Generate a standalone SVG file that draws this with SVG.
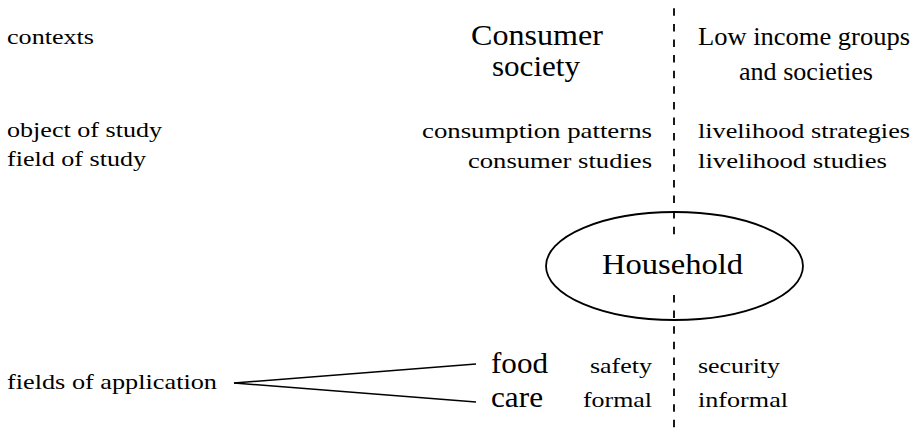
<svg xmlns="http://www.w3.org/2000/svg" width="918" height="432" viewBox="0 0 918 432">
<style>
text{fill:#000}
.s{font-size:21px}
.m{font-size:25px}
.l{font-size:30px}
.dash{stroke:#000;stroke-width:1.8;stroke-dasharray:7.5 8.1;fill:none}
.ln{stroke:#000;stroke-width:1.5;fill:none}
</style>
<rect width="918" height="432" fill="#fff"/>
<g id="connectors">
<line class="dash" x1="674" y1="8.3" x2="674" y2="240"/>
<line class="dash" x1="674" y1="295" x2="674" y2="432"/>
<line class="ln" x1="234" y1="383" x2="476" y2="364"/>
<line class="ln" x1="234" y1="383" x2="476" y2="402"/>
</g>
<g font-family="Liberation Serif, serif">
<g id="row-labels">
<text class="s" x="7" y="44" textLength="87" lengthAdjust="spacingAndGlyphs">contexts</text>
<text class="s" x="7" y="137" textLength="155" lengthAdjust="spacingAndGlyphs">object of study</text>
<text class="s" x="7" y="166" textLength="139" lengthAdjust="spacingAndGlyphs">field of study</text>
<text class="s" x="7" y="389" textLength="210" lengthAdjust="spacingAndGlyphs">fields of application</text>
</g>
<g id="consumer-society">
<text class="l" x="471" y="45" textLength="132" lengthAdjust="spacingAndGlyphs">Consumer</text>
<text class="l" x="492" y="76" textLength="88" lengthAdjust="spacingAndGlyphs">society</text>
</g>
<g id="low-income">
<text class="m" x="698" y="45" textLength="212" lengthAdjust="spacingAndGlyphs">Low income groups</text>
<text class="m" x="739" y="80" textLength="134" lengthAdjust="spacingAndGlyphs">and societies</text>
</g>
<g id="left-study">
<text class="s" x="422" y="138" textLength="230" lengthAdjust="spacingAndGlyphs">consumption patterns</text>
<text class="s" x="468" y="168" textLength="184" lengthAdjust="spacingAndGlyphs">consumer studies</text>
</g>
<g id="right-study">
<text class="s" x="698" y="138" textLength="212" lengthAdjust="spacingAndGlyphs">livelihood strategies</text>
<text class="s" x="698" y="168" textLength="189" lengthAdjust="spacingAndGlyphs">livelihood studies</text>
</g>
<g id="household">
<ellipse cx="674.5" cy="266" rx="128.5" ry="54" fill="none" stroke="#000" stroke-width="1.8"/>
<text class="l" x="602" y="274" textLength="141" lengthAdjust="spacingAndGlyphs">Household</text>
</g>
<g id="food">
<text class="l" x="491" y="373" textLength="57" lengthAdjust="spacingAndGlyphs">food</text>
<text class="s" x="590" y="373" textLength="62" lengthAdjust="spacingAndGlyphs">safety</text>
<text class="s" x="698" y="373" textLength="82" lengthAdjust="spacingAndGlyphs">security</text>
</g>
<g id="care">
<text class="l" x="491" y="407" textLength="52" lengthAdjust="spacingAndGlyphs">care</text>
<text class="s" x="583" y="407" textLength="69" lengthAdjust="spacingAndGlyphs">formal</text>
<text class="s" x="698" y="407" textLength="90" lengthAdjust="spacingAndGlyphs">informal</text>
</g>
</g>
</svg>
